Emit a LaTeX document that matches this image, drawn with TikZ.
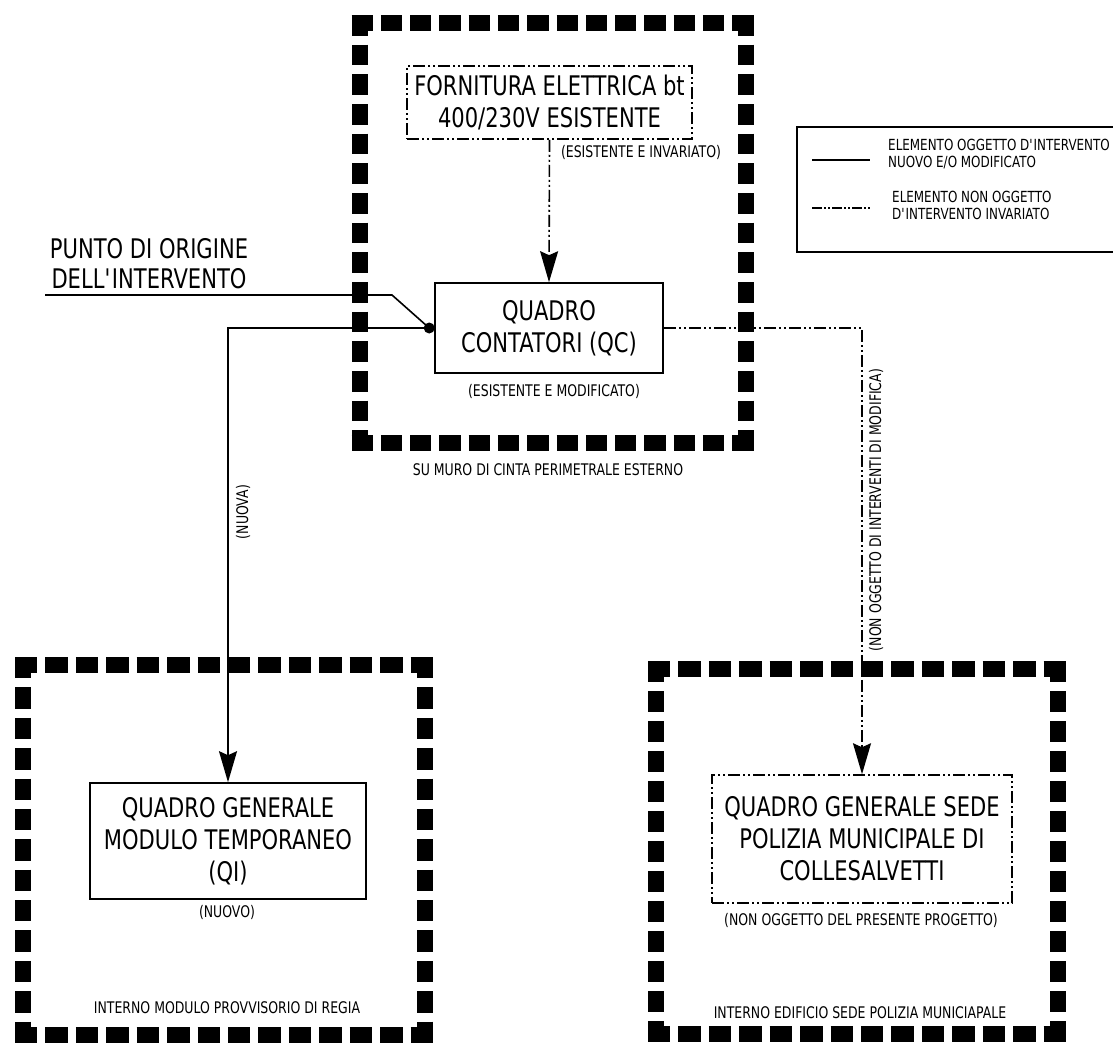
\documentclass[tikz,border=0pt]{standalone}
\usepackage{fontspec}
\setmainfont{DejaVu Sans}[FakeStretch=0.78]
\usetikzlibrary{arrows.meta}
\newcommand\dashframe[4]{%
  \pgfmathsetmacro\dfW{#3-#1+16}%
  \pgfmathsetmacro\dfNW{round((\dfW+8)/30)}%
  \pgfmathsetmacro\dfDW{(\dfW-(\dfNW-1)*8)/\dfNW}%
  \pgfmathsetmacro\dfH{#4-#2+16}%
  \pgfmathsetmacro\dfNH{round((\dfH+9)/30)}%
  \pgfmathsetmacro\dfDH{(\dfH-(\dfNH-1)*9)/\dfNH}%
  \draw[frameline, dash pattern=on \dfDW pt off 8pt] (#1-8,#2) -- (#3+8,#2);
  \draw[frameline, dash pattern=on \dfDW pt off 8pt] (#1-8,#4) -- (#3+8,#4);
  \draw[frameline, dash pattern=on \dfDH pt off 9pt] (#1,#2-8) -- (#1,#4+8);
  \draw[frameline, dash pattern=on \dfDH pt off 9pt] (#3,#2-8) -- (#3,#4+8);
}
\begin{document}
\begin{tikzpicture}[x=1pt,y=-1pt,
  frameline/.style={line width=16pt},
  ddline/.style={line width=1.6pt, dash pattern=on 12pt off 3pt on 2pt off 3pt on 2pt off 3pt},
  solidline/.style={line width=1.6pt},
  tip/.style={-{Stealth[length=31pt,width=18pt,inset=4pt]}},
  bigtext/.style={font=\fontsize{27}{32}\selectfont, align=center, inner sep=0pt},
  smalltext/.style={font=\fontsize{16}{18}\selectfont, inner sep=0pt},
  legtext/.style={font=\fontsize{15.3}{17.5}\selectfont, align=left, inner sep=0pt},
  solidbox/.style={draw, line width=1.6pt, bigtext},
  ddbox/.style={draw, bigtext, line width=1.5pt, dash pattern=on 12pt off 3pt on 2pt off 3pt on 2pt off 3pt}
]
\useasboundingbox (0,0) rectangle (1113,1044);
\clip (0,0) rectangle (1113,1044);
\fill[white] (0,0) rectangle (1113,1044);

% frames
\dashframe{359.5}{23}{745.5}{443}
\dashframe{23}{665}{425}{1035}
\dashframe{656}{669}{1058}{1034}

% boxes
\node[ddbox, minimum width=285pt, minimum height=73pt] (forn) at (549.5,102.5) {FORNITURA ELETTRICA bt\\400/230V ESISTENTE};
\node[solidbox, minimum width=228pt, minimum height=90pt] (qc) at (549,328) {QUADRO\\CONTATORI (QC)};
\node[solidbox, minimum width=276pt, minimum height=116pt] (qi) at (228,841) {QUADRO GENERALE\\MODULO TEMPORANEO\\(QI)};
\node[ddbox, minimum width=300pt, minimum height=128pt] (qp) at (862,839) {QUADRO GENERALE SEDE\\POLIZIA MUNICIPALE DI\\COLLESALVETTI};

% labels
\node[smalltext] (l1) at (641,152) {(ESISTENTE E INVARIATO)};
\node[smalltext] (l2) at (554,391) {(ESISTENTE E MODIFICATO)};
\node[smalltext] (l3) at (548,470) {SU MURO DI CINTA PERIMETRALE ESTERNO};
\node[smalltext] (l4) at (227,912) {(NUOVO)};
\node[smalltext] (l5) at (227,1008) {INTERNO MODULO PROVVISORIO DI REGIA};
\node[smalltext] (l6) at (861,920) {(NON OGGETTO DEL PRESENTE PROGETTO)};
\node[smalltext] (l7) at (860,1013) {INTERNO EDIFICIO SEDE POLIZIA MUNICIAPALE};
\node[smalltext, rotate=90] (l8) at (243,512) {(NUOVA)};
\node[smalltext, rotate=90] (l9) at (876,510) {(NON OGGETTO DI INTERVENTI DI MODIFICA)};
\node[bigtext, font=\fontsize{27}{30}\selectfont] (orig) at (149,264) {PUNTO DI ORIGINE\\DELL\textquotesingle INTERVENTO};

% connectors
\coordinate (dot) at ([xshift=-5pt]qc.west);
\coordinate (oa) at (45,295);
\coordinate (ob) at (392,295);
\draw[solidline] (oa) -- (ob) -- (dot);
\fill (dot) circle (5.5pt);
\draw[solidline, tip] (dot) -| (qi.north);
\draw[ddline, tip] (forn.south) -- (qc.north);
\draw[ddline, tip] (qc.east) -| (qp.north);

% legend
\draw[line width=1.6pt] (1125,127) -- (797,127) -- (797,252) -- (1125,252);
\coordinate (s1) at (812,160);
\coordinate (s2) at (870,160);
\draw[solidline] (s1) -- (s2);
\coordinate (d1) at (812,208);
\coordinate (d2) at (870,208);
\draw[ddline, dash pattern=on 10pt off 2pt on 2pt off 2pt on 2pt off 2pt] (d1) -- (d2);
\node[legtext, anchor=west] (t1) at (888,154) {ELEMENTO OGGETTO D\textquotesingle INTERVENTO\\NUOVO E/O MODIFICATO};
\node[legtext, anchor=west] (t2) at (892,205.5) {ELEMENTO NON OGGETTO\\D\textquotesingle INTERVENTO INVARIATO};
\end{tikzpicture}
\end{document}
